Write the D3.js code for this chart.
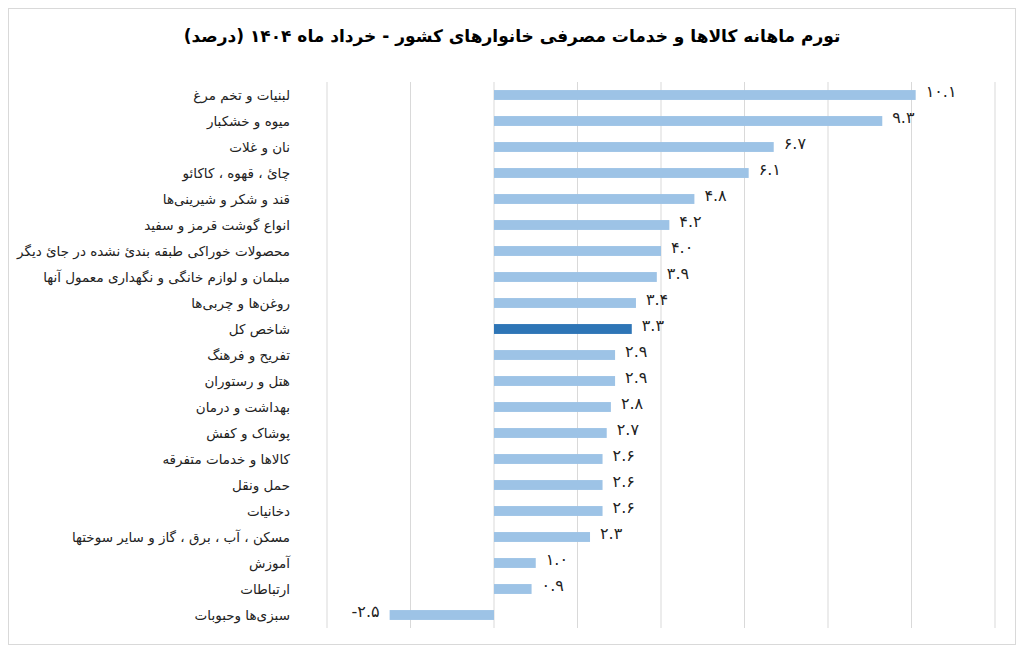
<!DOCTYPE html>
<html><head><meta charset="utf-8">
<script src="https://cdn.jsdelivr.net/npm/d3@7"></script>
<style>body{margin:0;background:#fff}text{font-family:"DejaVu Sans",sans-serif}</style>
</head><body><svg id="c" width="1024" height="653"></svg>
<script>
var categories = ["لبنیات و تخم مرغ","میوه و خشکبار","نان و غلات","چائ ، قهوه ، کاکائو","قند و شکر و شیرینی‌ها","انواع گوشت قرمز و سفید","محصولات خوراکی طبقه بندیٔ نشده در جایٔ دیگر","مبلمان و لوازم خانگی و نگهداری معمول آنها","روغن‌ها و چربی‌ها","شاخص کل","تفریح و فرهنگ","هتل و رستوران","بهداشت و درمان","پوشاک و کفش","کالاها و خدمات متفرقه","حمل ونقل","دخانیات","مسکن ، آب ، برق ، گاز و سایر سوختها","آموزش","ارتباطات","سبزی‌ها وحبوبات"];
var values = [10.1,9.3,6.7,6.1,4.8,4.2,4.0,3.9,3.4,3.3,2.9,2.9,2.8,2.7,2.6,2.6,2.6,2.3,1.0,0.9,-2.5];
var gridTicks = [-4,-2,0,2,4,6,8,10,12];
var highlight = "شاخص کل";

var svg = d3.select("#c");
svg.append("rect").attr("x",8.5).attr("y",8.5).attr("width",1007).attr("height",636)
  .attr("fill","none").attr("stroke","#d9d9d9");
svg.append("text").attr("x",512).attr("y",42).attr("text-anchor","middle")
  .attr("font-size",17).attr("font-weight","bold").attr("direction","rtl")
  .text("تورم ماهانه کالاها و خدمات مصرفی خانوارهای کشور - خرداد ماه ۱۴۰۴ (درصد)");

var x = d3.scaleLinear().domain([-4,12]).range([327,995]);
var y = d3.scaleBand().domain(categories).range([82,628]).paddingInner(0.62).paddingOuter(0.31);
var fa = function(v){ return d3.format(".1f")(Math.abs(v)).replace(/\d/g,function(d){return "۰۱۲۳۴۵۶۷۸۹"[d];}); };

svg.append("g").selectAll("line").data(gridTicks).join("line")
  .attr("x1",function(d){return x(d);}).attr("x2",function(d){return x(d);})
  .attr("y1",82).attr("y2",628).attr("stroke","#d9d9d9");

svg.append("g").selectAll("rect").data(values).join("rect")
  .attr("x",function(d){return x(Math.min(0,d));})
  .attr("width",function(d){return Math.abs(x(d)-x(0));})
  .attr("y",function(d,i){return y(categories[i]);})
  .attr("height",y.bandwidth())
  .attr("fill",function(d,i){return categories[i]===highlight?"#2e75b6":"#9dc3e6";});

svg.append("g").selectAll("text").data(values).join("text")
  .attr("x",function(d){return d<0?x(d)-10:x(d)+10;})
  .attr("y",function(d,i){return y(categories[i])+y.bandwidth()/2;})
  .attr("dy","0.15em").attr("font-size",16).attr("fill","#222")
  .attr("text-anchor",function(d){return d<0?"end":"start";})
  .text(function(d){return (d<0?"-":"")+fa(d);});

svg.append("g").selectAll("text").data(categories).join("text")
  .attr("x",290).attr("y",function(d){return y(d)+y.bandwidth()/2;})
  .attr("dy","0.35em").attr("font-size",13.5).attr("fill","#222")
  .attr("text-anchor","start").attr("direction","rtl")
  .text(function(d){return d;});
</script></body></html>
